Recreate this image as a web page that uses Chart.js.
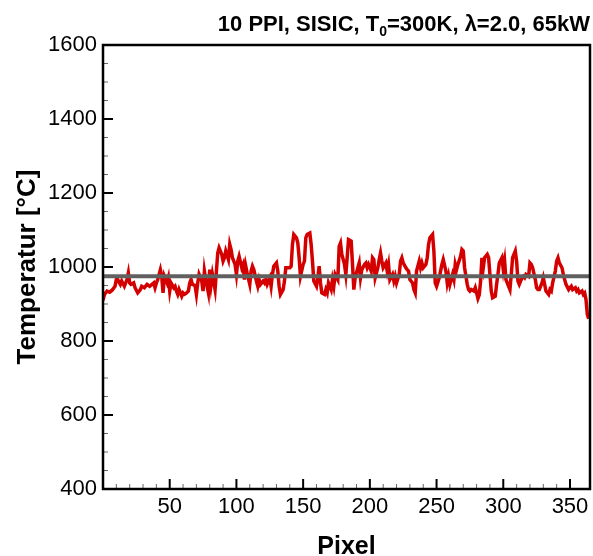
<!DOCTYPE html>
<html>
<head>
<meta charset="utf-8">
<script src="https://cdn.jsdelivr.net/npm/chart.js@4.4.1/dist/chart.umd.min.js"></script>
<style>
  body { margin: 0; background: #fff; }
  #wrap { width: 593px; height: 556px; }
</style>
</head>
<body>
<div id="wrap"><canvas id="tempChart" width="593" height="556"></canvas></div>
<script>
// Messwerte entlang der Pixelzeile
var pixel = [
  0, 1, 3, 5, 7, 9, 10, 11, 13, 14,
  16, 18, 19, 20, 21, 23, 24, 26, 28, 29,
  31, 33, 35, 38, 39, 40, 41, 43, 44, 45,
  46, 48, 49, 50, 51, 53, 54, 55, 56, 57,
  59, 60, 61, 62, 64, 65, 66, 67, 69, 70,
  71, 72, 74, 75, 76, 77, 79, 80, 81, 82,
  84, 85, 86, 87, 89, 90, 91, 92, 94, 95,
  96, 97, 99, 100, 101, 102, 104, 105, 106, 107,
  108, 110, 111, 112, 113, 115, 116, 117, 118, 120,
  121, 122, 123, 125, 126, 127, 128, 130, 131, 132,
  133, 135, 136, 137, 138, 140, 141, 142, 143, 145,
  146, 147, 148, 150, 151, 152, 153, 155, 156, 157,
  158, 160, 161, 162, 163, 164, 166, 167, 168, 169,
  171, 172, 173, 174, 176, 177, 178, 179, 181, 182,
  183, 184, 186, 187, 188, 189, 191, 192, 193, 194,
  196, 197, 198, 199, 201, 202, 203, 204, 206, 207,
  208, 209, 210, 212, 213, 214, 215, 217, 218, 219,
  220, 222, 223, 224, 225, 227, 228, 229, 230, 232,
  233, 234, 235, 237, 238, 239, 240, 242, 243, 244,
  245, 247, 248, 249, 250, 252, 253, 254, 255, 257,
  258, 259, 260, 262, 263, 264, 265, 266, 268, 269,
  270, 271, 273, 274, 275, 276, 278, 279, 280, 281,
  282, 283, 284, 285, 286, 288, 289, 290, 291, 292,
  294, 295, 296, 297, 299, 300, 301, 302, 304, 305,
  306, 307, 309, 310, 311, 312, 314, 315, 316, 317,
  319, 320, 321, 322, 324, 325, 326, 327, 329, 330,
  331, 332, 334, 335, 336, 337, 339, 340, 341, 342,
  344, 345, 346, 347, 349, 350, 351, 352, 354, 355,
  356, 357, 359, 360, 361, 362, 363, 364
];
var temperature = [
  910, 925, 935, 932, 938, 948, 966, 966, 953, 962,
  948, 966, 984, 957, 953, 957, 944, 930, 939, 948,
  944, 953, 948, 957, 944, 957, 966, 993, 975, 930,
  975, 957, 971, 935, 957, 944, 948, 935, 926, 939,
  921, 930, 926, 928, 935, 957, 966, 953, 950, 926,
  957, 980, 962, 935, 989, 966, 930, 993, 953, 980,
  939, 989, 1038, 1052, 1034, 1016, 1025, 1043, 1020, 1061,
  1047, 1025, 1007, 980, 1016, 1029, 998, 1007, 966, 1002,
  984, 953, 989, 1002, 993, 962, 948, 966, 953, 962,
  957, 966, 953, 971, 948, 980, 1002, 1011, 989, 948,
  926, 939, 962, 998, 998, 998, 1002, 1061, 1088, 1079,
  1065, 1025, 975, 1007, 1016, 1079, 1088, 1092, 1061, 1016,
  962, 948, 971, 1002, 957, 930, 926, 939, 930, 957,
  939, 966, 948, 980, 966, 1056, 1065, 1034, 1007, 980,
  1025, 1074, 1070, 1007, 939, 971, 998, 1011, 971, 993,
  1007, 1011, 998, 1007, 989, 1025, 1020, 971, 998, 1020,
  1038, 1016, 998, 1011, 989, 1007, 966, 980, 962, 975,
  957, 980, 1016, 1025, 1011, 998, 993, 989, 966, 957,
  939, 930, 989, 1016, 998, 1011, 998, 1007, 1025, 1061,
  1079, 1088, 1043, 957, 948, 971, 989, 1007, 1020, 989,
  957, 975, 953, 980, 966, 1007, 993, 1007, 1029, 1047,
  1043, 998, 953, 939, 935, 939, 935, 944, 930, 915,
  925, 962, 1025, 998, 1025, 1034, 1025, 980, 935, 917,
  921, 953, 980, 1011, 1025, 993, 1016, 966, 948, 939,
  980, 1025, 1043, 1016, 962, 953, 971, 975, 971, 980,
  975, 1011, 1007, 998, 966, 944, 939, 939, 957, 971,
  953, 935, 926, 939, 935, 957, 989, 1016, 1025, 1011,
  998, 980, 966, 953, 939, 944, 948, 939, 944, 935,
  939, 930, 935, 926, 930, 912, 872, 860
];
// Mittelwert (graue Linie)
var meanTemp = 975;
var pixelRange = [0, 365];

// Achsenbeschriftungen
var xLabels = [50, 100, 150, 200, 250, 300, 350];
var yLabels = [400, 600, 800, 1000, 1200, 1400, 1600];

var redPoints = pixel.map(function(p, i) { return { x: p, y: temperature[i] }; });
var meanPoints = pixelRange.map(function(p) { return { x: p, y: meanTemp }; });

// Rahmen und nach innen zeigende Ticks
var frameTicks = {
  id: 'frameTicks',
  afterDatasetsDraw: function(chart) {
    var ctx = chart.ctx, a = chart.chartArea;
    var xs = chart.scales.x, ys = chart.scales.y;
    ctx.save();
    xs.ticks.forEach(function(t) {
      var px = xs.getPixelForValue(t.value);
      if (px <= a.left + 1 || px >= a.right - 1) return;
      var major = t.value % 50 === 0;
      ctx.lineWidth = major ? 2 : 1;
      ctx.strokeStyle = major ? '#000' : '#666';
      ctx.beginPath();
      ctx.moveTo(px, a.bottom);
      ctx.lineTo(px, a.bottom - (major ? 10 : 5));
      ctx.stroke();
    });
    ys.ticks.forEach(function(t) {
      var py = ys.getPixelForValue(t.value);
      if (py <= a.top + 1 || py >= a.bottom - 1) return;
      var major = t.value % 200 === 0;
      ctx.lineWidth = major ? 2 : 1;
      ctx.strokeStyle = major ? '#000' : '#666';
      ctx.beginPath();
      ctx.moveTo(a.left, py);
      ctx.lineTo(a.left + (major ? 10 : 5), py);
      ctx.stroke();
    });
    ctx.lineWidth = 2.5;
    ctx.strokeStyle = '#000';
    ctx.strokeRect(a.left, a.top, a.right - a.left, a.bottom - a.top);
    ctx.restore();
  }
};

// Überschrift mit tiefgestellter 0
var headTitle = {
  id: 'headTitle',
  afterDraw: function(chart) {
    var ctx = chart.ctx;
    var parts = ['10 PPI, SISIC, T', '0', '=300K, \u03bb=2.0, 65kW'];
    var big = 'bold 22px "Liberation Sans", Arial, sans-serif';
    var small = 'bold 14px "Liberation Sans", Arial, sans-serif';
    ctx.save();
    ctx.fillStyle = '#000';
    ctx.textBaseline = 'alphabetic';
    ctx.font = big;
    var w1 = ctx.measureText(parts[0]).width;
    var w3 = ctx.measureText(parts[2]).width;
    ctx.font = small;
    var w2 = ctx.measureText(parts[1]).width;
    var x = chart.chartArea.right - (w1 + w2 + w3);
    var y = 31;
    ctx.font = big;
    ctx.fillText(parts[0], x, y);
    ctx.font = small;
    ctx.fillText(parts[1], x + w1, y + 5);
    ctx.font = big;
    ctx.fillText(parts[2], x + w1 + w2, y);
    ctx.restore();
  }
};

var ctx = document.getElementById('tempChart').getContext('2d');
var tempChart = new Chart(ctx, {
  type: 'line',
  data: {
    datasets: [{
      label: 'Mittelwert',
      data: meanPoints,
      borderColor: '#606060',
      borderWidth: 4,
      pointRadius: 0,
      tension: 0
    }, {
      label: 'Temperatur',
      data: redPoints,
      borderColor: '#d40000',
      borderWidth: 3.5,
      pointRadius: 0,
      tension: 0
    }]
  },
  options: {
    responsive: false,
    animation: false,
    layout: { padding: { top: 45, right: 3, left: 0, bottom: 0 } },
    plugins: {
      legend: { display: false },
      tooltip: { enabled: false }
    },
    scales: {
      x: {
        type: 'linear',
        min: pixelRange[0],
        max: pixelRange[1],
        grid: { display: false, tickLength: 0 },
        border: { display: false },
        ticks: {
          stepSize: 10,
          autoSkip: false,
          maxRotation: 0,
          padding: 5,
          color: '#000',
          font: { family: '"Liberation Sans", Arial, sans-serif', size: 22 },
          callback: function(v) { return xLabels.indexOf(v) >= 0 ? String(v) : ''; }
        },
        title: {
          display: true,
          text: 'Pixel',
          color: '#000',
          font: { family: '"Liberation Sans", Arial, sans-serif', size: 25, weight: 'bold', lineHeight: 0.7 },
          padding: { top: 0, bottom: 0 }
        },
        afterFit: function(scale) {
          scale.height = 67;
          scale.paddingLeft = 0;
          scale.paddingRight = 0;
        }
      },
      y: {
        min: 400,
        max: 1600,
        grid: { display: false, tickLength: 0 },
        border: { display: false },
        ticks: {
          stepSize: 50,
          autoSkip: false,
          padding: 6,
          color: '#000',
          font: { family: '"Liberation Sans", Arial, sans-serif', size: 22 },
          callback: function(v) { return yLabels.indexOf(v) >= 0 ? String(v) : ''; }
        },
        title: {
          display: true,
          text: 'Temperatur [\u00b0C]',
          color: '#000',
          font: { family: '"Liberation Sans", Arial, sans-serif', size: 26, weight: 'bold', lineHeight: 1.2 },
          padding: { top: 12, bottom: 0 }
        },
        afterFit: function(scale) { scale.width = 103; }
      }
    }
  },
  plugins: [frameTicks, headTitle]
});
</script>
</body>
</html>
